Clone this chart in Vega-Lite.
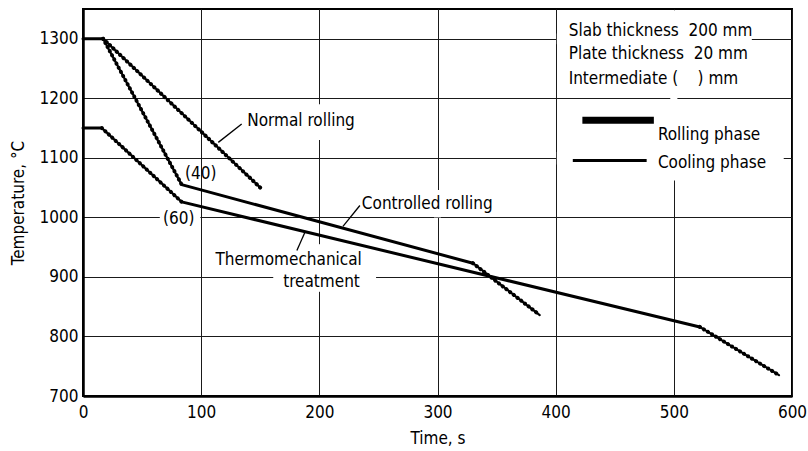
{
  "$schema": "https://vega.github.io/schema/vega-lite/v6.json",
  "width": 709,
  "height": 387,
  "autosize": {"type": "none"},
  "padding": {"left": 83, "top": 9, "right": 16, "bottom": 55},
  "background": "white",
  "config": {
    "font": "DejaVu Sans Condensed, DejaVu Sans, sans-serif",
    "view": {"stroke": "black", "strokeWidth": 2},
    "axis": {
      "grid": true,
      "gridColor": "#1a1a1a",
      "gridWidth": 1,
      "ticks": false,
      "domainColor": "black",
      "domainWidth": 2.5,
      "labelColor": "black",
      "labelFontSize": 17,
      "labelFlush": false,
      "titleColor": "black",
      "titleFontSize": 17,
      "titleFontWeight": "normal",
      "format": "d"
    }
  },
  "datasets": {
    "curves": [
      {"schedule": "Normal rolling", "seg": "N1", "phase": "hold", "t": 0, "temp": 1300},
      {"schedule": "Normal rolling", "seg": "N1", "phase": "hold", "t": 17, "temp": 1300},
      {"schedule": "Normal rolling", "seg": "N2", "phase": "rolling", "t": 17, "temp": 1300},
      {"schedule": "Normal rolling", "seg": "N2", "phase": "rolling", "t": 150, "temp": 1050},
      {"schedule": "Controlled rolling", "seg": "C2", "phase": "rolling", "t": 17, "temp": 1300},
      {"schedule": "Controlled rolling", "seg": "C2", "phase": "rolling", "t": 83.5, "temp": 1055},
      {"schedule": "Controlled rolling", "seg": "C3", "phase": "cooling", "t": 83.5, "temp": 1055},
      {"schedule": "Controlled rolling", "seg": "C3", "phase": "cooling", "t": 330, "temp": 923},
      {"schedule": "Controlled rolling", "seg": "C4", "phase": "rolling", "t": 330, "temp": 923},
      {"schedule": "Controlled rolling", "seg": "C4", "phase": "rolling", "t": 386.5, "temp": 836},
      {"schedule": "Thermomechanical treatment", "seg": "T1", "phase": "hold", "t": 0, "temp": 1150},
      {"schedule": "Thermomechanical treatment", "seg": "T1", "phase": "hold", "t": 16, "temp": 1150},
      {"schedule": "Thermomechanical treatment", "seg": "T2", "phase": "rolling", "t": 16, "temp": 1150},
      {"schedule": "Thermomechanical treatment", "seg": "T2", "phase": "rolling", "t": 83.5, "temp": 1026},
      {"schedule": "Thermomechanical treatment", "seg": "T3", "phase": "cooling", "t": 83.5, "temp": 1026},
      {"schedule": "Thermomechanical treatment", "seg": "T3", "phase": "cooling", "t": 522, "temp": 816},
      {"schedule": "Thermomechanical treatment", "seg": "T4", "phase": "rolling", "t": 522, "temp": 816},
      {"schedule": "Thermomechanical treatment", "seg": "T4", "phase": "rolling", "t": 589, "temp": 735}
    ],
    "masks": [
      {"t": 401, "t2": 566, "temp": 1291, "temp2": 1309},
      {"t": 401, "t2": 593, "temp": 1089, "temp2": 1110},
      {"t": 497, "t2": 503, "temp": 1062, "temp2": 1348},
      {"t": 65, "t2": 99.3, "temp": 990, "temp2": 1008},
      {"t": 197, "t2": 203, "temp": 1130, "temp2": 1190},
      {"t": 297, "t2": 303, "temp": 1000, "temp2": 1046},
      {"t": 197, "t2": 203, "temp": 875, "temp2": 955},
      {"t": 161, "t2": 248, "temp": 893, "temp2": 907}
    ],
    "leaders": [
      {"t": 114.5, "temp": 1126, "t2": 134.3, "temp2": 1157},
      {"t": 220, "temp": 985, "t2": 234.3, "temp2": 1020},
      {"t": 188, "temp": 976, "t2": 181, "temp2": 944.5}
    ],
    "labelsLeft": [
      {"label": "Slab thickness\u00a0\u00a0200 mm", "t": 411, "temp": 1313.6},
      {"label": "Plate thickness\u00a0\u00a020 mm", "t": 411, "temp": 1275},
      {"label": "Intermediate (\u00a0\u00a0\u00a0\u00a0) mm", "t": 411, "temp": 1233},
      {"label": "Rolling phase", "t": 486.5, "temp": 1139},
      {"label": "Cooling phase", "t": 486.5, "temp": 1092},
      {"label": "Normal rolling", "t": 139, "temp": 1161.6},
      {"label": "(40)", "t": 86.3, "temp": 1073},
      {"label": "(60)", "t": 67.7, "temp": 997.6},
      {"label": "Controlled rolling", "t": 236, "temp": 1022}
    ],
    "labelsRight": [
      {"label": "Thermomechanical", "t": 236, "temp": 927.8},
      {"label": "treatment", "t": 234.3, "temp": 891.4}
    ],
    "key": [
      {"phase": "Rolling phase", "t": 422.6, "t2": 483.1, "temp": 1163},
      {"phase": "Cooling phase", "t": 414.5, "t2": 477, "temp": 1095.7}
    ]
  },
  "encoding": {
    "x": {
      "field": "t",
      "type": "quantitative",
      "scale": {"domain": [0, 600], "nice": false, "zero": false},
      "axis": {"values": [0, 100, 200, 300, 400, 500, 600], "title": "Time, s", "labelPadding": 8, "titlePadding": 10}
    },
    "y": {
      "field": "temp",
      "type": "quantitative",
      "scale": {"domain": [700, 1350], "nice": false, "zero": false},
      "axis": {"values": [700, 800, 900, 1000, 1100, 1200, 1300], "title": "Temperature, °C", "labelPadding": 5, "titlePadding": 12}
    }
  },
  "layer": [
    {
      "data": {"name": "masks"},
      "mark": {"type": "rect", "fill": "white", "stroke": null},
      "encoding": {"x2": {"field": "t2"}, "y2": {"field": "temp2"}}
    },
    {
      "data": {"name": "curves"},
      "transform": [{"filter": "datum.phase !== 'rolling'"}],
      "mark": {"type": "line", "color": "black", "strokeWidth": 3, "strokeCap": "round", "strokeJoin": "round"},
      "encoding": {"detail": {"field": "seg"}}
    },
    {
      "data": {"name": "curves"},
      "transform": [{"filter": "datum.phase === 'rolling'"}],
      "mark": {"type": "line", "color": "black", "strokeWidth": 2.2, "strokeCap": "round"},
      "encoding": {"detail": {"field": "seg"}}
    },
    {
      "data": {"name": "curves"},
      "transform": [{"filter": "datum.phase === 'rolling'"}],
      "mark": {"type": "line", "color": "black", "strokeWidth": 4, "strokeCap": "round", "strokeDash": [0.1, 4.6]},
      "encoding": {"detail": {"field": "seg"}}
    },
    {
      "data": {"name": "leaders"},
      "mark": {"type": "rule", "color": "black", "strokeWidth": 1.3},
      "encoding": {"x2": {"field": "t2"}, "y2": {"field": "temp2"}}
    },
    {
      "data": {"name": "key"},
      "mark": {"type": "rule", "color": "black"},
      "encoding": {
        "x2": {"field": "t2"},
        "strokeWidth": {
          "field": "phase",
          "type": "nominal",
          "scale": {"domain": ["Rolling phase", "Cooling phase"], "range": [7, 3]},
          "legend": null
        }
      }
    },
    {
      "data": {"name": "labelsLeft"},
      "mark": {"type": "text", "align": "left", "baseline": "middle", "fontSize": 17, "color": "black"},
      "encoding": {"text": {"field": "label"}}
    },
    {
      "data": {"name": "labelsRight"},
      "mark": {"type": "text", "align": "right", "baseline": "middle", "fontSize": 17, "color": "black"},
      "encoding": {"text": {"field": "label"}}
    }
  ]
}
